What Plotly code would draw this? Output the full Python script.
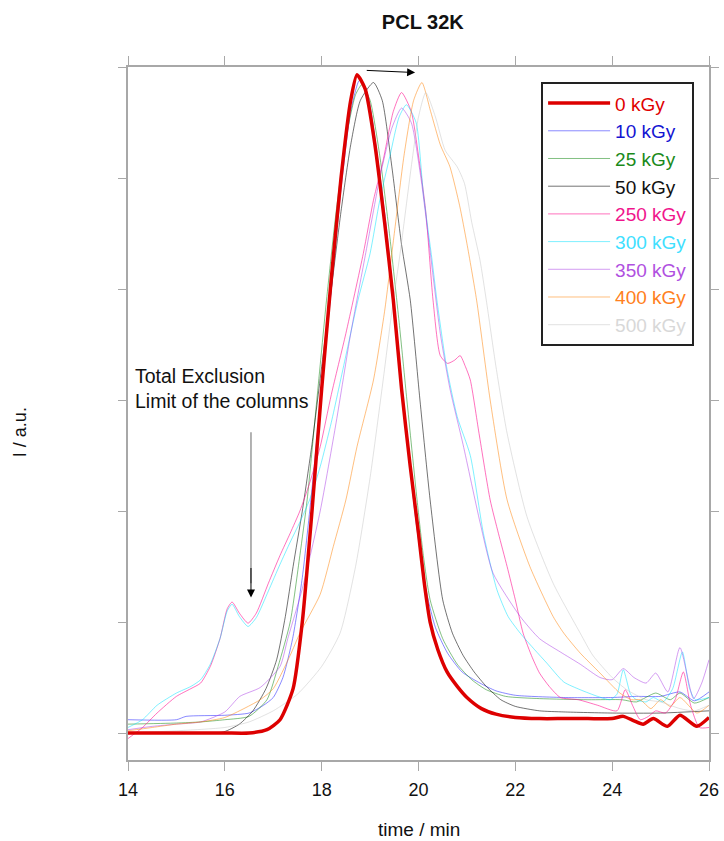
import plotly.graph_objects as go

# Elution time (min) and detector intensity (a.u.) for each irradiation dose
t_0 = [14.0, 15.0, 16.0, 16.5, 16.87, 17.14, 17.41, 17.6, 17.8, 18.0, 18.2, 18.4, 18.6, 18.73, 18.9,
       19.1, 19.3, 19.48, 19.65, 19.83, 20.0, 20.12, 20.24, 20.4, 20.59, 20.8, 21.0, 21.3, 21.6, 22.0,
       22.5, 23.0, 23.5, 24.0, 24.23, 24.45, 24.64, 24.85, 25.14, 25.4, 25.75, 26.0]
i_0 = [0.0, 0.0, 0.0, 0.0, 0.03, 0.12, 0.4, 1.0, 2.0, 3.1, 4.1, 5.0, 5.7, 5.93, 5.8,
       5.3, 4.6, 3.9, 3.1, 2.4, 1.8, 1.35, 1.0, 0.75, 0.55, 0.42, 0.32, 0.22, 0.17, 0.14,
       0.13, 0.13, 0.13, 0.13, 0.15, 0.11, 0.08, 0.13, 0.06, 0.16, 0.06, 0.14]

t_10 = [14.0, 15.0, 15.2, 16.0, 16.5, 16.8, 17.0, 17.2, 17.4, 17.6, 17.8, 18.0, 18.2, 18.4, 18.6, 18.78,
        18.95, 19.15, 19.35, 19.55, 19.75, 19.95, 20.15, 20.35, 20.6, 20.9, 21.27, 21.6, 22.0, 23.0,
        24.0, 24.5, 25.0, 25.4, 25.7, 26.0]
i_10 = [0.12, 0.12, 0.15, 0.16, 0.18, 0.25, 0.32, 0.5, 0.85, 1.4, 2.2, 3.1, 4.0, 4.9, 5.6, 5.88,
        5.75, 5.2, 4.5, 3.6, 2.7, 1.9, 1.3, 0.95, 0.72, 0.55, 0.45, 0.38, 0.34, 0.32,
        0.32, 0.33, 0.33, 0.37, 0.29, 0.37]

t_25 = [14.0, 15.0, 15.5, 16.0, 16.5, 16.87, 17.1, 17.35, 17.55, 17.7, 17.9, 18.1, 18.3, 18.5, 18.7,
        18.83, 19.0, 19.2, 19.4, 19.6, 19.76, 19.97, 20.1, 20.24, 20.5, 20.8, 21.1, 21.4, 21.8, 22.5,
        23.5, 24.2, 24.5, 24.9, 25.2, 25.4, 25.7, 26.0]
i_25 = [0.08, 0.09, 0.1, 0.12, 0.15, 0.3, 0.6, 1.0, 1.6, 2.1, 3.0, 3.9, 4.7, 5.35, 5.75,
        5.84, 5.7, 5.2, 4.5, 3.7, 3.0, 2.1, 1.6, 1.2, 0.85, 0.62, 0.48, 0.39, 0.33, 0.31,
        0.3, 0.3, 0.28, 0.36, 0.3, 0.36, 0.27, 0.32]

t_50 = [14.0, 15.0, 15.97, 16.3, 16.58, 16.85, 17.07, 17.25, 17.41, 17.6, 17.8, 18.0, 18.2, 18.4,
        18.6, 18.8, 19.07, 19.25, 19.45, 19.65, 19.83, 20.03, 20.24, 20.5, 20.7, 20.92, 21.15, 21.4,
        21.7, 22.0, 22.5, 23.0, 24.0, 25.0, 26.0]
i_50 = [0.0, 0.0, 0.01, 0.08, 0.2, 0.4, 0.66, 1.05, 1.5, 2.0, 2.6, 3.3, 4.0, 4.7,
        5.3, 5.7, 5.86, 5.7, 5.1, 4.4, 3.9, 3.0, 2.1, 1.2, 0.9, 0.7, 0.55, 0.42,
        0.3, 0.24, 0.2, 0.19, 0.18, 0.18, 0.2]

t_250 = [14.0, 14.3, 14.6, 15.0, 15.3, 15.5, 15.7, 15.9, 16.05, 16.15, 16.3, 16.48, 16.65, 16.9, 17.14,
         17.35, 17.55, 17.75, 17.97, 18.2, 18.5, 18.86, 19.07, 19.27, 19.48, 19.65, 19.85, 20.0, 20.15,
         20.3, 20.45, 20.6, 20.75, 20.86, 20.97, 21.07, 21.25, 21.48, 21.65, 21.83, 22.0, 22.16, 22.35,
         22.5, 22.7, 22.93, 23.3, 23.7, 24.1, 24.27, 24.42, 24.58, 24.75, 24.9, 25.1, 25.3, 25.47, 25.62,
         25.8, 26.0]
i_250 = [-0.05, 0.05, 0.18, 0.33, 0.4, 0.45, 0.6, 0.85, 1.12, 1.18, 1.08, 0.99, 1.08, 1.35, 1.6,
         1.8, 2.0, 2.25, 2.58, 3.05, 3.6, 4.32, 4.8, 5.16, 5.6, 5.77, 5.6, 5.2, 4.7,
         3.9, 3.4, 3.33, 3.36, 3.4, 3.3, 3.18, 2.7, 2.1, 1.8, 1.5, 1.2, 0.9, 0.68,
         0.54, 0.42, 0.32, 0.3, 0.25, 0.2, 0.39, 0.25, 0.12, 0.15, 0.2, 0.18, 0.3, 0.55, 0.25,
         0.05, 0.05]

t_300 = [14.0, 14.3, 14.6, 15.0, 15.3, 15.5, 15.7, 15.9, 16.05, 16.15, 16.3, 16.48, 16.65, 16.9, 17.14,
         17.35, 17.55, 17.75, 17.97, 18.2, 18.5, 18.75, 19.0, 19.2, 19.41, 19.6, 19.75, 19.95, 20.1,
         20.28, 20.38, 20.58, 20.8, 21.07, 21.34, 21.62, 21.85, 22.1, 22.4, 22.65, 23.0, 23.34, 23.7,
         23.96, 24.1, 24.23, 24.38, 24.5, 24.7, 24.85, 25.05, 25.25, 25.45, 25.6, 25.72, 26.0]
i_300 = [0.05, 0.12, 0.25, 0.36, 0.42, 0.48, 0.62, 0.85, 1.1, 1.16, 1.05, 0.96, 1.04, 1.28, 1.52,
         1.72, 1.9, 2.1, 2.4, 2.8, 3.4, 3.9, 4.32, 4.8, 5.2, 5.55, 5.66, 5.5, 4.86,
         4.26, 3.9, 3.3, 2.85, 2.5, 1.8, 1.29, 1.05, 0.9, 0.75, 0.63, 0.46, 0.39, 0.33,
         0.3, 0.35, 0.57, 0.35, 0.3, 0.28, 0.32, 0.28, 0.4, 0.73, 0.4, 0.3, 0.32]

t_350 = [14.0, 14.5, 15.0, 15.5, 16.0, 16.31, 16.73, 17.14, 17.3, 17.6, 17.97, 18.3, 18.6, 18.9, 19.2,
         19.45, 19.65, 19.85, 20.05, 20.25, 20.45, 20.65, 20.92, 21.27, 21.54, 22.1, 22.5, 22.93, 23.34,
         23.75, 24.0, 24.23, 24.45, 24.7, 24.9, 25.15, 25.4, 25.68, 25.85, 26.0]
i_350 = [0.03, 0.06, 0.08, 0.1, 0.19, 0.33, 0.41, 0.6, 0.85, 1.3, 2.0, 2.8, 3.6, 4.3, 5.0,
         5.45, 5.63, 5.5, 5.0, 4.3, 3.6, 3.1, 2.6, 1.9, 1.44, 1.05, 0.85, 0.73, 0.62,
         0.5, 0.48, 0.58, 0.5, 0.45, 0.54, 0.37, 0.77, 0.31, 0.45, 0.66]

t_400 = [14.0, 14.5, 15.0, 15.5, 16.0, 16.73, 17.0, 17.35, 17.55, 17.97, 18.24, 18.5, 18.73, 19.07, 19.3,
         19.5, 19.7, 19.9, 20.07, 20.25, 20.45, 20.65, 20.85, 21.0, 21.2, 21.48, 21.83, 22.3, 22.78,
         23.0, 23.34, 23.75, 24.16, 24.4, 24.58, 24.8, 25.0, 25.2, 25.4, 25.75, 26.0]
i_400 = [0.02, 0.05, 0.08, 0.1, 0.14, 0.3, 0.4, 0.7, 0.9, 1.25, 1.68, 2.1, 2.58, 3.18, 3.8,
         4.5, 5.2, 5.7, 5.86, 5.6, 5.3, 5.1, 4.75, 4.41, 3.9, 3.0, 2.1, 1.5, 1.05,
         0.9, 0.72, 0.54, 0.36, 0.3, 0.3, 0.22, 0.3, 0.24, 0.32, 0.18, 0.25]

t_500 = [14.0, 15.0, 16.0, 16.5, 17.0, 17.5, 18.0, 18.38, 18.7, 19.0, 19.27, 19.45, 19.62, 19.85, 20.0,
         20.15, 20.35, 20.55, 20.8, 20.95, 21.1, 21.27, 21.4, 21.6, 21.83, 22.24, 22.78, 23.34, 23.6,
         24.0, 24.3, 24.7, 25.0, 25.4, 25.7, 26.0]
i_500 = [0.0, 0.02, 0.05, 0.1, 0.2, 0.35, 0.6, 0.9, 1.5, 2.3, 3.18, 3.8, 4.32, 5.1, 5.55,
         5.77, 5.55, 5.25, 5.1, 4.95, 4.6, 4.26, 3.9, 3.3, 2.7, 1.95, 1.35, 0.9, 0.7,
         0.5, 0.39, 0.3, 0.28, 0.22, 0.2, 0.25]

labels = ["0 kGy", "10 kGy", "25 kGy", "50 kGy", "250 kGy", "300 kGy", "350 kGy", "400 kGy", "500 kGy"]
times = [t_0, t_10, t_25, t_50, t_250, t_300, t_350, t_400, t_500]
intensities = [i_0, i_10, i_25, i_50, i_250, i_300, i_350, i_400, i_500]

line_colors = ["#dd0000", "rgba(40,40,255,0.55)", "rgba(30,140,30,0.55)", "rgba(0,0,0,0.55)",
               "rgba(255,20,147,0.6)", "rgba(0,225,255,0.5)", "rgba(170,60,230,0.5)",
               "rgba(255,128,0,0.5)", "rgba(190,190,190,0.45)"]
text_colors = ["#e00000", "#1414d2", "#1a8a1a", "#111111", "#f0148c", "#40e0ff", "#b050e0",
               "#ff8020", "#d8d8d8"]
line_widths = [3.5, 1, 1, 1, 1, 1, 1, 1, 1]

FONT = "Arial, Liberation Sans, sans-serif"

fig = go.Figure()
# thin curves first, the 0 kGy reference on top
order = list(range(1, len(labels))) + [0]
for k in order:
    fig.add_trace(go.Scatter(
        x=times[k], y=intensities[k], mode="lines",
        line=dict(color=line_colors[k], width=line_widths[k], shape="spline", smoothing=0.6),
        name=f'<span style="color:{text_colors[k]}">{labels[k]}</span>',
        legendrank=k + 1, legendgroup=labels[k],
    ))

axis_gray = "#a8a8a8"
fig.update_xaxes(range=[14, 26], tickvals=[14, 16, 18, 20, 22, 24, 26],
                 ticks="outside", ticklen=9, tickcolor=axis_gray, tickwidth=1,
                 showline=True, linecolor=axis_gray, linewidth=1.5, mirror="ticks",
                 showgrid=False, zeroline=False, ticklabelstandoff=4, automargin=False,
                 tickfont=dict(size=18, color="#111", family=FONT))
fig.update_yaxes(range=[-0.243, 6.0], tickvals=[0, 1, 2, 3, 4, 5, 6], showticklabels=False,
                 ticks="outside", ticklen=8, tickcolor=axis_gray, tickwidth=1,
                 showline=True, linecolor=axis_gray, linewidth=1.5, mirror="ticks",
                 showgrid=False, zeroline=False, automargin=False)

annotations = [
    dict(text="Total Exclusion<br>Limit of the columns", x=14.1, y=3.1, xref="x", yref="y",
         xanchor="left", yanchor="middle", align="left", showarrow=False,
         font=dict(size=19.5, color="#111", family=FONT)),
    dict(text="time / min", x=0.5, y=-0.101, xref="paper", yref="paper", showarrow=False,
         xanchor="center", yanchor="middle", font=dict(size=19, color="#111", family=FONT)),
    dict(text="I / a.u.", x=-0.186, y=0.473, xref="paper", yref="paper", showarrow=False,
         textangle=-90, xanchor="center", yanchor="middle",
         font=dict(size=18, color="#111", family=FONT)),
    # shift of the peak maximum
    dict(text="", x=19.93, y=5.95, ax=18.9, ay=5.97, xref="x", yref="y", axref="x", ayref="y",
         showarrow=True, arrowhead=2, arrowsize=1.6, arrowwidth=1, arrowcolor="#000"),
    # arrow head pointing at the exclusion-limit peak
    dict(text="", x=16.54, y=1.22, ax=16.54, ay=1.5, xref="x", yref="y", axref="x", ayref="y",
         showarrow=True, arrowhead=2, arrowsize=1.6, arrowwidth=1, arrowcolor="#000"),
]

fig.add_shape(type="line", x0=16.54, x1=16.54, y0=2.71, y1=1.35, xref="x", yref="y",
              line=dict(color="#999999", width=1.5))

fig.update_layout(
    width=724, height=841,
    margin=dict(l=128, r=15, t=67, b=81, autoexpand=False),
    paper_bgcolor="white", plot_bgcolor="white",
    title=dict(text="<b>PCL 32K</b>", x=0.584, xanchor="center", y=0.974, yanchor="middle",
               yref="container", font=dict(size=20, color="#111", family=FONT)),
    legend=dict(x=0.711, y=0.978, xanchor="left", yanchor="top", bgcolor="white",
                bordercolor="#222", borderwidth=2, itemwidth=62, tracegroupgap=0,
                font=dict(size=19, family=FONT)),
    annotations=annotations,
    showlegend=True,
)

fig.write_html("out.html")
